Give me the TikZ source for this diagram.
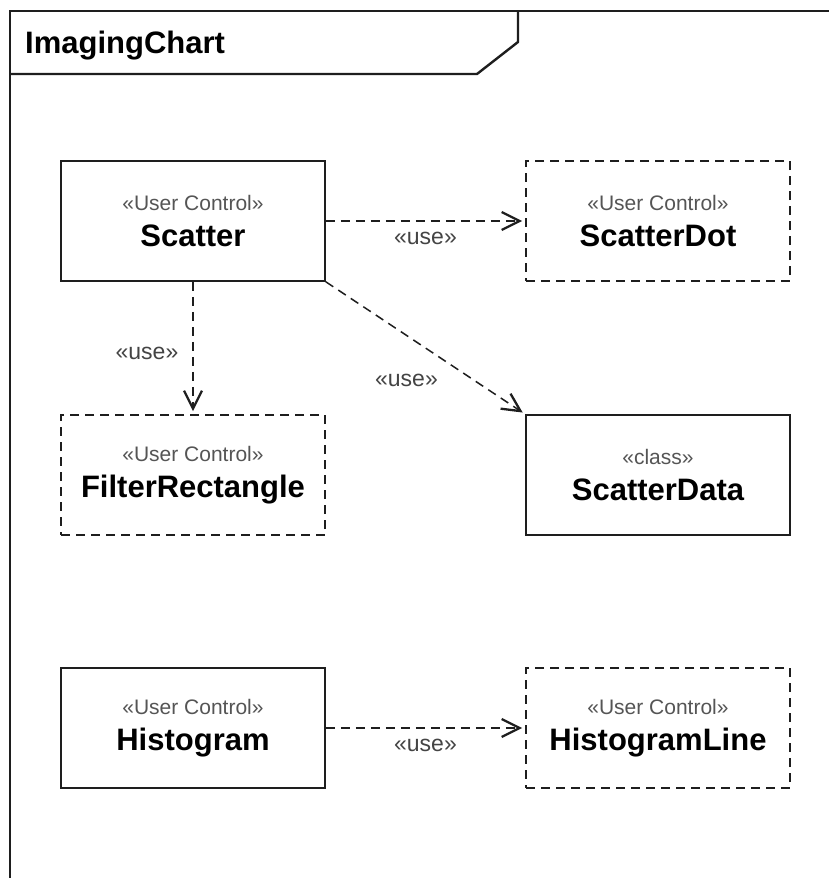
\documentclass[tikz,border=0pt]{standalone}
\usepackage{fontspec}
\setmainfont{Liberation Sans}
\usetikzlibrary{arrows.meta}

\definecolor{inkline}{HTML}{1E1E1E}
\definecolor{stereogray}{HTML}{555555}
\definecolor{labelgray}{HTML}{444444}

\newcommand{\stereo}[1]{{\fontsize{21}{24}\selectfont\color{stereogray}«#1»}}
\newcommand{\clsname}[1]{{\bfseries #1}}

\tikzset{
  classbox/.style={draw=inkline, line width=1.6pt, minimum width=264pt,
    minimum height=120pt, inner sep=0pt, align=center,
    font=\fontsize{31}{36}\selectfont},
  dashedbox/.style={classbox, dash pattern=on 9pt off 6pt},
  usedep/.style={draw=inkline, line width=1.5pt, dash pattern=on 9pt off 6pt,
    -{Straight Barb[length=18pt,width=18pt,line width=2.3pt]}, shorten >=3pt},
  uselabel/.style={font=\fontsize{23}{26}\selectfont, text=labelgray, inner sep=0pt},
  framestroke/.style={draw=inkline, line width=2pt}
}

\begin{document}
\begin{tikzpicture}[x=1pt, y=-1pt]
  \useasboundingbox (0,0) rectangle (828,878);
  \fill[white] (0,0) rectangle (828,878);

  % package frame and its name tab
  \draw[framestroke] (10,890) -- (10,11) -- (840,11);
  \draw[framestroke, line width=2.4pt] (10,74) -- (477,74) -- (518,42) -- (518,11);
  \node[anchor=base west, inner sep=0pt, font=\fontsize{31}{36}\selectfont\bfseries]
    (title) at (25,53) {ImagingChart};

  % classes
  \node[classbox]  (scatter)     at (193,221) {\stereo{User Control}\\\clsname{Scatter}};
  \node[dashedbox] (scatterdot)  at (658,221) {\stereo{User Control}\\\clsname{ScatterDot}};
  \node[dashedbox] (filterrect)  at (193,475) {\stereo{User Control}\\\clsname{FilterRectangle}};
  \node[classbox]  (scatterdata) at (658,475) {\stereo{class}\\\clsname{ScatterData}};
  \node[classbox]  (histogram)   at (193,728) {\stereo{User Control}\\\clsname{Histogram}};
  \node[dashedbox] (histline)    at (658,728) {\stereo{User Control}\\\clsname{HistogramLine}};

  % dependencies
  \draw[usedep] (scatter.east) -- (scatterdot.west)
    node[uselabel, midway, yshift=-17pt] (lbldot) {«use»};
  \draw[usedep] (scatter.south) -- (filterrect.north)
    node[uselabel, midway, xshift=-46pt, yshift=-5pt] (lblfilter) {«use»};
  \draw[usedep] (scatter.south east) -- (scatterdata.north west)
    node[uselabel, midway, xshift=-19pt, yshift=-32pt] (lbldata) {«use»};
  \draw[usedep] (histogram.east) -- (histline.west)
    node[uselabel, midway, yshift=-17pt] (lblhist) {«use»};
\end{tikzpicture}
\end{document}
